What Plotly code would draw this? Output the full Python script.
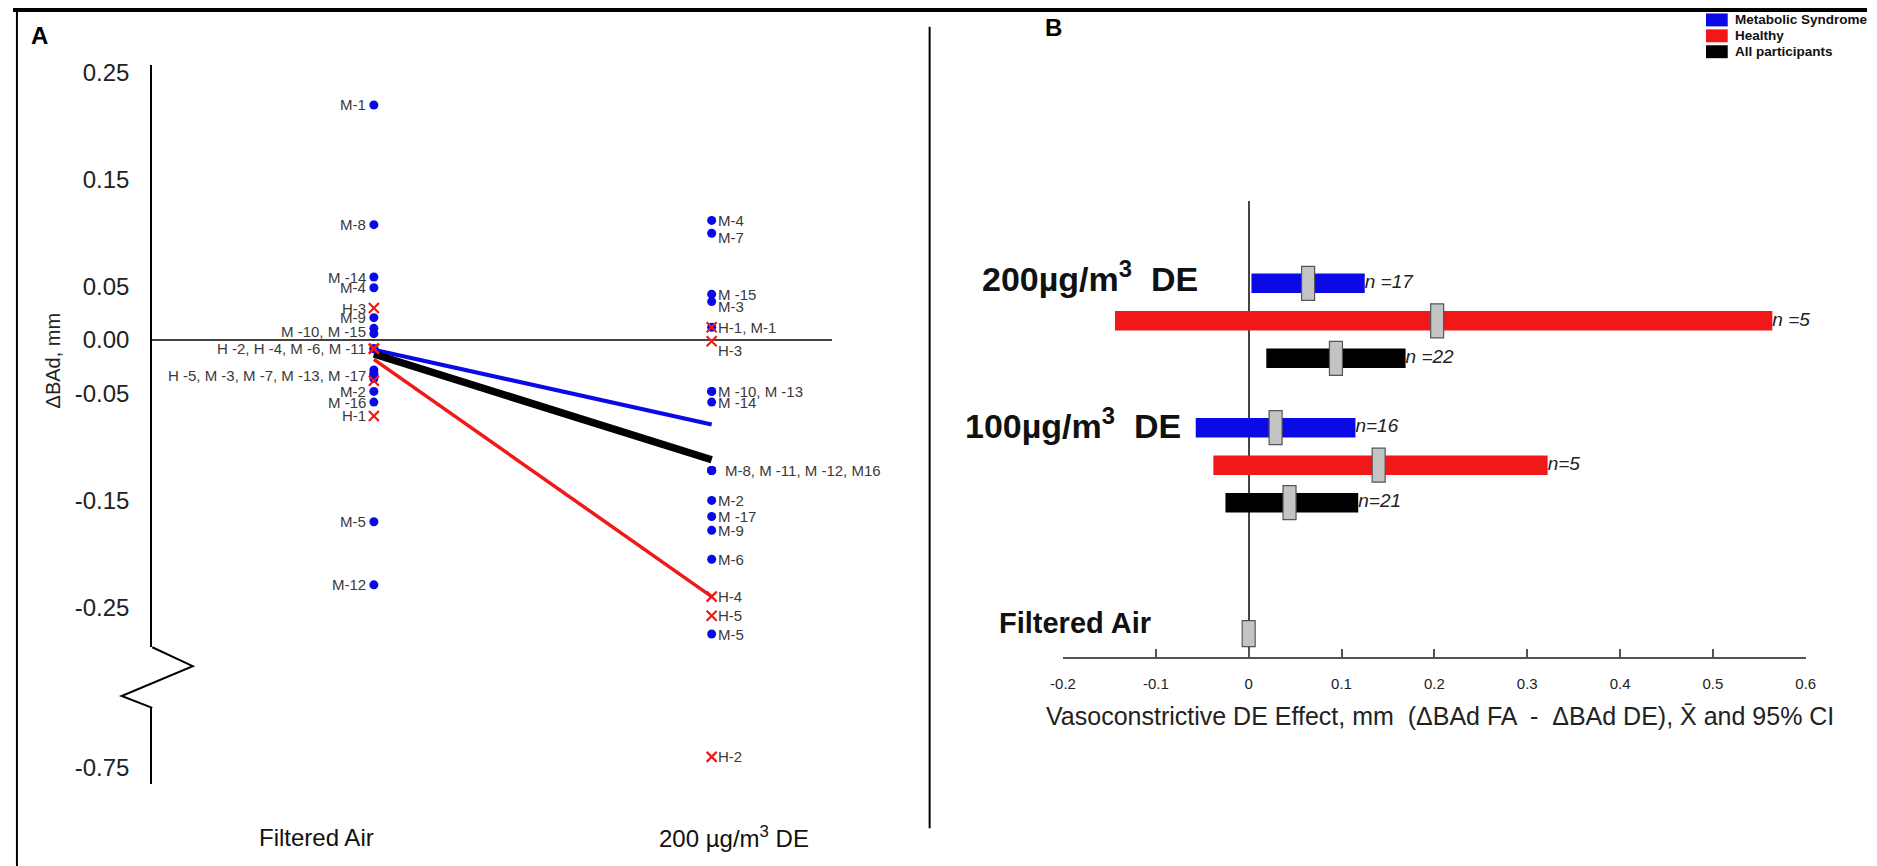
import plotly.graph_objects as go

W, H = 1877, 866
FONT = "Liberation Sans, Arial, Helvetica, sans-serif"

# ---------------- Panel A: change in brachial artery diameter (ΔBAd, mm) ----------------
fa_ids = ["M-1", "M-8", "M-14", "M-4", "H-3", "M-9", "M-10", "M-15",
          "H-2", "H-4", "M-6", "M-11", "M-3", "M-7", "M-13", "M-17",
          "H-5", "M-2", "M-16", "H-1", "M-5", "M-12"]
fa_vals = [0.220, 0.108, 0.059, 0.049, 0.030, 0.021, 0.011, 0.006,
           -0.008, -0.008, -0.008, -0.008, -0.028, -0.031, -0.033, -0.036,
           -0.038, -0.048, -0.058, -0.071, -0.170, -0.229]

de_ids = ["M-4", "M-7", "M-15", "M-3", "H-1", "M-1", "H-3", "M-10", "M-13",
          "M-14", "M-8", "M-11", "M-12", "M-16", "M-2", "M-17", "M-9", "M-6",
          "H-4", "H-5", "M-5", "H-2"]
de_vals = [0.112, 0.100, 0.043, 0.036, 0.012, 0.012, -0.001, -0.048, -0.048,
           -0.058, -0.122, -0.122, -0.122, -0.122, -0.150, -0.165, -0.178, -0.205,
           -0.240, -0.258, -0.275, -0.740]

# group mean change, Filtered Air -> 200 µg/m3 DE
line_ms = [-0.009, -0.079]
line_healthy = [-0.018, -0.240]
line_all = [-0.013, -0.112]

fa_label_text = ["M-1", "M-8", "M -14", "M-4", "H-3", "M-9", "M -10, M -15",
                 "H -2, H -4, M -6, M -11", "H -5, M -3, M -7, M -13, M -17",
                 "M-2", "M -16", "H-1", "M-5", "M-12"]
fa_label_members = [["M-1"], ["M-8"], ["M-14"], ["M-4"], ["H-3"], ["M-9"],
                    ["M-10", "M-15"], ["H-2", "H-4", "M-6", "M-11"],
                    ["H-5", "M-3", "M-7", "M-13", "M-17"],
                    ["M-2"], ["M-16"], ["H-1"], ["M-5"], ["M-12"]]

de_label_text = ["M-4", "M-7", "M -15", "M-3", "H-1, M-1", "H-3", "M -10, M -13",
                 "M -14", "M-8, M -11, M -12, M16", "M-2", "M -17", "M-9", "M-6",
                 "H-4", "H-5", "M-5", "H-2"]
de_label_members = [["M-4"], ["M-7"], ["M-15"], ["M-3"], ["H-1", "M-1"], ["H-3"],
                    ["M-10", "M-13"], ["M-14"], ["M-8", "M-11", "M-12", "M-16"],
                    ["M-2"], ["M-17"], ["M-9"], ["M-6"], ["H-4"], ["H-5"],
                    ["M-5"], ["H-2"]]

exposures_a = ["Filtered Air", "200 µg/m<sup>3</sup> DE"]
ytick_vals = [0.25, 0.15, 0.05, 0.00, -0.05, -0.15, -0.25]
ytick_text = ["0.25", "0.15", "0.05", "0.00", "-0.05", "-0.15", "-0.25"]
ytick_low_vals = [-0.75]
ytick_low_text = ["-0.75"]

# ---------------- Panel B: vasoconstrictive DE effect, mean and 95% CI ----------------
groups = ["Metabolic Syndrome", "Healthy", "All participants"]
doses = ["200µg/m<sup>3</sup>  DE", "100µg/m<sup>3</sup>  DE", "Filtered Air"]

mean_200 = [0.064, 0.203, 0.094]
lo_200 = [0.003, -0.144, 0.019]
hi_200 = [0.125, 0.564, 0.169]
n_200 = ["n =17", "n =5", "n =22"]

mean_100 = [0.029, 0.140, 0.044]
lo_100 = [-0.057, -0.038, -0.025]
hi_100 = [0.115, 0.322, 0.118]
n_100 = ["n=16", "n=5", "n=21"]

fa_effect = 0.0
xtick_vals = [-0.2, -0.1, 0.0, 0.1, 0.2, 0.3, 0.4, 0.5, 0.6]
xtick_text = ["-0.2", "-0.1", "0", "0.1", "0.2", "0.3", "0.4", "0.5", "0.6"]

# ---------------- styling / layout helpers ----------------
BLUE = "#0a0ae6"
RED = "#f01818"
BLACK = "#000000"
group_colors = [BLUE, RED, BLACK]

row_200 = [0.0, 1.0, 2.0]
row_100 = [3.85, 4.85, 5.85]
row_fa = 9.34


def px(x):
    return x / W


def py(y):
    return 1 - y / H


BREAK = -0.5
fa_map = dict(zip(fa_ids, fa_vals))
de_map = dict(zip(de_ids, de_vals))

fig = go.Figure()

# mean lines
for vals, col, wid in [(line_ms, BLUE, 4), (line_all, BLACK, 7.5), (line_healthy, RED, 3.5)]:
    fig.add_trace(go.Scatter(x=[0, 1], y=vals, mode="lines",
                             line=dict(color=col, width=wid),
                             xaxis="x", yaxis="y", showlegend=False, hoverinfo="skip"))

# participant markers, split across the broken axis
for prefix, sym, col, size, lw in [("M", "circle", BLUE, 9, 0), ("H", "x-thin", RED, 10, 2.2)]:
    for upper, yax in [(True, "y"), (False, "y2")]:
        xs, ys = [], []
        for xpos, ids, vals in [(0, fa_ids, fa_vals), (1, de_ids, de_vals)]:
            for i, v in zip(ids, vals):
                if i.startswith(prefix) and ((v > BREAK) == upper):
                    xs.append(xpos)
                    ys.append(v)
        if xs:
            fig.add_trace(go.Scatter(
                x=xs, y=ys, mode="markers", xaxis="x", yaxis=yax,
                marker=dict(symbol=sym, size=size, color=col,
                            line=dict(color=col, width=lw)),
                showlegend=False, hoverinfo="skip"))

annotations = []
label_font = dict(family=FONT, size=15, color="#3a3a3a")
for txt, mem in zip(fa_label_text, fa_label_members):
    v = sum(fa_map[m] for m in mem) / len(mem)
    annotations.append(dict(x=0, y=v, xref="x", yref="y" if v > BREAK else "y2",
                            text=txt, showarrow=False, xanchor="right", yanchor="middle",
                            xshift=-6, font=label_font))
de_nudge = {"M-7": -4, "M-3": -5, "H-3": -9}
de_xnudge = {"M-8, M -11, M -12, M16": 7}
for txt, mem in zip(de_label_text, de_label_members):
    v = sum(de_map[m] for m in mem) / len(mem)
    annotations.append(dict(x=1, y=v, xref="x", yref="y" if v > BREAK else "y2",
                            text=txt, showarrow=False, xanchor="left", yanchor="middle",
                            xshift=4 + de_xnudge.get(txt, 0), yshift=de_nudge.get(txt, 0),
                            font=label_font))

# exposure labels under panel A
for txt, cx in zip(exposures_a, [307, 730]):
    annotations.append(dict(x=px(cx), y=py(837), xref="paper", yref="paper", text=txt,
                            showarrow=False, xanchor="center", yanchor="middle",
                            font=dict(family=FONT, size=24, color="#111111")))

# y-axis title panel A
annotations.append(dict(x=px(40), y=py(358), xref="paper", yref="paper", text="ΔBAd, mm",
                        textangle=-90, showarrow=False, xanchor="center", yanchor="middle",
                        font=dict(family=FONT, size=20, color="#222222")))

# panel letters
annotations.append(dict(x=px(27), y=py(31), xref="paper", yref="paper", text="<b>A</b>",
                        showarrow=False, xanchor="center", yanchor="middle",
                        font=dict(family=FONT, size=24, color="#000")))
annotations.append(dict(x=px(1053), y=py(23), xref="paper", yref="paper", text="<b>B</b>",
                        showarrow=False, xanchor="center", yanchor="middle",
                        font=dict(family=FONT, size=24, color="#000")))

# ---------------- Panel B traces ----------------
for gi, g in enumerate(groups):
    fig.add_trace(go.Bar(
        y=[row_200[gi], row_100[gi]],
        base=[lo_200[gi], lo_100[gi]],
        x=[hi_200[gi] - lo_200[gi], hi_100[gi] - lo_100[gi]],
        orientation="h", width=0.52, marker=dict(color=group_colors[gi], line=dict(width=0)),
        xaxis="x2", yaxis="y3", name=g, showlegend=False, hoverinfo="skip"))

fig.add_trace(go.Scatter(
    x=hi_200 + hi_100, y=row_200 + row_100, mode="text", text=n_200 + n_100,
    textposition="middle right",
    textfont=dict(family=FONT, size=19, color="#222222", style="italic"),
    xaxis="x2", yaxis="y3", cliponaxis=False, showlegend=False, hoverinfo="skip"))

shapes = []
for m, r in zip(mean_200 + mean_100, row_200 + row_100):
    shapes.append(dict(type="rect", xref="x2", yref="y3", xsizemode="pixel", ysizemode="pixel",
                       xanchor=m, yanchor=r, x0=-6.5, x1=6.5, y0=-17, y1=17,
                       fillcolor="#c4c4c4", line=dict(color="#555555", width=1.2)))
shapes.append(dict(type="rect", xref="x2", yref="y3", xsizemode="pixel", ysizemode="pixel",
                   xanchor=fa_effect, yanchor=row_fa, x0=-6.5, x1=6.5, y0=-13, y1=13,
                   fillcolor="#c4c4c4", line=dict(color="#555555", width=1.2)))

# dose labels, panel B
for txt, r, lx, ys, fs in [(doses[0], row_200[0], 979, 7, 34), (doses[1], row_100[0], 962, 4, 34),
                           (doses[2], row_fa, 996, 11, 29)]:
    annotations.append(dict(x=px(lx), y=r, xref="paper", yref="y3", text="<b>" + txt + "</b>",
                            showarrow=False, xanchor="left", yanchor="middle", yshift=ys,
                            font=dict(family=FONT, size=fs, color="#111111")))

annotations.append(dict(x=px(1445), y=py(715), xref="paper", yref="paper",
                        text="Vasoconstrictive DE Effect, mm  (ΔBAd FA  -  ΔBAd DE), X\u0304 and 95% CI",
                        showarrow=False, xanchor="center", yanchor="middle",
                        font=dict(family=FONT, size=25, color="#222222")))

# legend
leg_x0, leg_y = 1714, [15, 31, 47]
for g, col, yy in zip(groups, group_colors, leg_y):
    shapes.append(dict(type="rect", xref="paper", yref="paper",
                       x0=px(leg_x0), x1=px(leg_x0 + 22), y0=py(yy - 6.5), y1=py(yy + 6.5),
                       fillcolor=col, line=dict(width=0)))
    annotations.append(dict(x=px(leg_x0 + 27), y=py(yy), xref="paper", yref="paper",
                            text="<b>" + g + "</b>", showarrow=False, xanchor="left",
                            yanchor="middle", font=dict(family=FONT, size=13.5, color="#111111")))

# broken-axis zigzag and frame lines
zig = [(141, 646), (182, 665), (110, 695), (141, 707)]
path = "M " + " L ".join(f"{px(a):.5f},{py(b):.5f}" for a, b in zig)
shapes.append(dict(type="path", xref="paper", yref="paper", path=path,
                   line=dict(color="#000", width=2)))
shapes.append(dict(type="line", xref="paper", yref="paper", x0=0, x1=1,
                   y0=py(5), y1=py(5), line=dict(color="#000", width=4)))
shapes.append(dict(type="line", xref="paper", yref="paper", x0=px(4), x1=px(4),
                   y0=py(5), y1=0, line=dict(color="#000", width=2)))
shapes.append(dict(type="line", xref="paper", yref="paper", x0=px(928), x1=px(928),
                   y0=py(22), y1=py(828), line=dict(color="#000", width=2)))

tickfont_a = dict(family=FONT, size=24, color="#222222")
fig.update_layout(
    width=W, height=H, margin=dict(l=0, r=0, t=0, b=0),
    paper_bgcolor="white", plot_bgcolor="rgba(0,0,0,0)",
    showlegend=False, barmode="overlay",
    font=dict(family=FONT),
    xaxis=dict(domain=[px(141), px(829)], range=[-0.6560, 1.3557], visible=False,
               anchor="y"),
    yaxis=dict(domain=[py(646), py(60)], range=[-0.2874, 0.2577], anchor="x",
               showline=True, linecolor="#000", linewidth=2, showgrid=False,
               zeroline=True, zerolinecolor="#444", zerolinewidth=2,
               tickvals=ytick_vals, ticktext=ytick_text, ticks="",
               ticklabelstandoff=16, tickfont=tickfont_a),
    yaxis2=dict(domain=[py(784), py(707)], range=[-0.7658, -0.6942], anchor="x",
                showline=True, linecolor="#000", linewidth=2, showgrid=False,
                zeroline=False, tickvals=ytick_low_vals, ticktext=ytick_low_text,
                ticks="", ticklabelstandoff=16, tickfont=tickfont_a),
    xaxis2=dict(domain=[px(1063), px(1815)], range=[-0.2, 0.6], anchor="y3",
                showline=True, linecolor="#555", linewidth=2, showgrid=False,
                ticks="inside", ticklen=8, tickwidth=2, tickcolor="#555",
                tickvals=xtick_vals, ticktext=xtick_text, ticklabelstandoff=12,
                tickfont=dict(family=FONT, size=15, color="#222222"),
                zeroline=True, zerolinecolor="#444", zerolinewidth=2),
    yaxis3=dict(domain=[py(656), py(197)], range=[9.97, -2.2], anchor="x2",
                visible=False, showgrid=False, zeroline=False),
    annotations=annotations, shapes=shapes,
)

fig.write_html(
    "out.html",
    config={"displayModeBar": False},
    post_script="document.body.style.margin='0px';document.body.style.padding='0px';"
                "document.documentElement.style.overflow='hidden';",
)
